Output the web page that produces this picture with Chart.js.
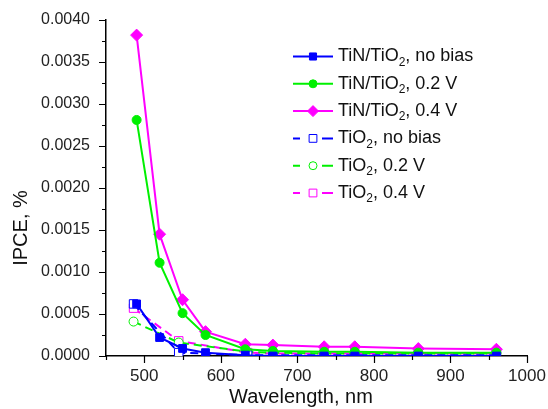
<!DOCTYPE html>
<html>
<head>
<meta charset="utf-8">
<script src="https://cdn.jsdelivr.net/npm/chart.js@4"></script>
<style>
  html, body { margin: 0; padding: 0; background: #fff; }
  #ipce { display: block; }
</style>
</head>
<body>
<canvas id="ipce" width="548" height="409"></canvas>
<script>
// wavelengths, nm
const tinWavelengths = [490, 520, 550, 580, 632, 668, 735, 775, 858, 960];
const tio2Wavelengths = [486, 545, 635, 668, 735, 775, 858, 960];

// IPCE, % -- TiN/TiO2 electrodes
const tinNoBias = [0.00062, 0.00022, 0.00009, 0.00004, 0.00001, 0, 0, 0, 0, 0];
const tin02V = [0.00281, 0.00111, 0.00051, 0.00025, 0.00008, 0.00006, 0.00005, 0.00005, 0.00004, 0.00004];
const tin04V = [0.00382, 0.00145, 0.00067, 0.00029, 0.00014, 0.00013, 0.00011, 0.00011, 0.000088, 0.00008];

// IPCE, % -- bare TiO2
const tio2NoBias = [0.00062, 0.00004, 0.00001, 0.00001, 0.00001, 0.00001, 0.00001, 0.00001];
const tio202V = [0.00041, 0.00016, 0.00005, 0.00004, 0.00003, 0.00003, 0.00003, 0.00003];
const tio204V = [0.00057, 0.00018, 0.00004, 0.00003, 0.00003, 0.00003, 0.00003, 0.00003];

const BLUE = '#0000ff', GREEN = '#00f000', MAGENTA = '#ff00ff';

function points(xs, ys) {
  return xs.map((x, i) => ({ x: x, y: ys[i] }));
}

function series(label, xs, ys, color, style, radius, open) {
  return {
    label: label,
    data: points(xs, ys),
    borderColor: color,
    backgroundColor: open ? '#ffffff' : color,
    borderWidth: 2,
    borderDash: open ? [8, 5] : [],
    pointStyle: style,
    pointRadius: radius,
    pointBorderWidth: 1,
    pointBorderColor: color,
    pointBackgroundColor: open ? '#ffffff' : color,
    tension: 0
  };
}

const datasets = [
  series('TiN/TiO|2|, no bias', tinWavelengths, tinNoBias, BLUE, 'rect', 5.5, false),
  series('TiN/TiO|2|, 0.2 V', tinWavelengths, tin02V, GREEN, 'circle', 4.5, false),
  series('TiN/TiO|2|, 0.4 V', tinWavelengths, tin04V, MAGENTA, 'rectRot', 6, false),
  series('TiO|2|, no bias', tio2Wavelengths, tio2NoBias, BLUE, 'rect', 6, true),
  series('TiO|2|, 0.2 V', tio2Wavelengths, tio202V, GREEN, 'circle', 4.5, true),
  series('TiO|2|, 0.4 V', tio2Wavelengths, tio204V, MAGENTA, 'rect', 6, true)
];

const FONT = 'Arial, "Liberation Sans", sans-serif';

// tick marks, axis titles and the legend (with subscripts)
const decorations = {
  id: 'decorations',
  afterDraw(chart) {
    const ctx = chart.ctx;
    const xs = chart.scales.x, ys = chart.scales.y;
    const area = chart.chartArea;
    ctx.save();
    ctx.strokeStyle = '#000';
    ctx.lineWidth = 1.2;
    ctx.beginPath();
    for (let v = 450; v <= 1000; v += 50) {
      const px = Math.round(xs.getPixelForValue(v)) + 0.5;
      const len = v % 100 === 0 ? 7 : 4;
      ctx.moveTo(px, area.bottom);
      ctx.lineTo(px, area.bottom + len);
    }
    for (let i = 0; i <= 16; i++) {
      const py = Math.round(ys.getPixelForValue(i * 0.00025)) + 0.5;
      const len = i % 2 === 0 ? 7 : 4;
      ctx.moveTo(area.left, py);
      ctx.lineTo(area.left - len, py);
    }
    ctx.stroke();

    // axis titles
    ctx.fillStyle = '#111';
    ctx.font = '20px ' + FONT;
    ctx.textAlign = 'center';
    ctx.textBaseline = 'middle';
    ctx.fillText('Wavelength, nm', 301, 397);
    ctx.save();
    ctx.translate(21, 228);
    ctx.rotate(-Math.PI / 2);
    ctx.fillText('IPCE, %', 0, 0);
    ctx.restore();

    // legend
    const x0 = 293, x1 = 333, xm = 313, tx = 338;
    let y = 56.5;
    chart.data.datasets.forEach((ds) => {
      const open = ds.borderDash.length > 0;
      ctx.strokeStyle = ds.borderColor;
      ctx.lineWidth = 2;
      ctx.beginPath();
      if (open) {
        ctx.moveTo(x0, y); ctx.lineTo(x0 + 7, y);
        ctx.moveTo(x1 - 11, y); ctx.lineTo(x1, y);
      } else {
        ctx.moveTo(x0, y); ctx.lineTo(x1, y);
      }
      ctx.stroke();
      ctx.fillStyle = ds.pointBackgroundColor;
      ctx.strokeStyle = ds.borderColor;
      ctx.lineWidth = 1;
      Chart.helpers.drawPoint(ctx, {
        pointStyle: ds.pointStyle,
        radius: ds.pointStyle === 'circle' ? 4 : ds.pointRadius - 0.5,
        rotation: 0,
        borderWidth: 1
      }, xm, y);

      const parts = ds.label.split('|');
      let cx = tx;
      ctx.fillStyle = '#111';
      ctx.textAlign = 'left';
      ctx.textBaseline = 'middle';
      parts.forEach((p, i) => {
        if (i % 2 === 1) {
          ctx.font = '12px ' + FONT;
          ctx.fillText(p, cx, y + 6);
        } else {
          ctx.font = '18px ' + FONT;
          ctx.fillText(p, cx, y);
        }
        cx += ctx.measureText(p).width;
      });
      y += 27.3;
    });
    ctx.restore();
  }
};

new Chart(document.getElementById('ipce'), {
  type: 'line',
  data: { datasets: datasets },
  options: {
    responsive: false,
    animation: false,
    layout: { padding: { left: 0, right: 21, top: 20, bottom: 0 } },
    plugins: { legend: { display: false }, tooltip: { enabled: false } },
    scales: {
      x: {
        type: 'linear',
        min: 450,
        max: 1000,
        grid: { display: false, drawTicks: false },
        border: { display: true, color: '#000', width: 1.5 },
        ticks: {
          stepSize: 50,
          padding: 10,
          color: '#222',
          font: { family: FONT, size: 17 },
          maxRotation: 0,
          autoSkip: false,
          callback: (v) => (v % 100 === 0 && v > 450 ? String(v) : '')
        },
        afterFit: (s) => { s.height = 53; s.paddingLeft = 0; s.paddingRight = 0; }
      },
      y: {
        type: 'linear',
        min: 0,
        max: 0.004,
        grid: { display: false, drawTicks: false },
        border: { display: true, color: '#000', width: 1.5 },
        ticks: {
          stepSize: 0.0005,
          padding: 16,
          color: '#222',
          font: { family: FONT, size: 16 },
          callback: (v) => v.toFixed(4)
        },
        afterFit: (s) => { s.width = 106; s.paddingTop = 0; s.paddingBottom = 0; }
      }
    }
  },
  plugins: [decorations]
});
</script>
</body>
</html>
